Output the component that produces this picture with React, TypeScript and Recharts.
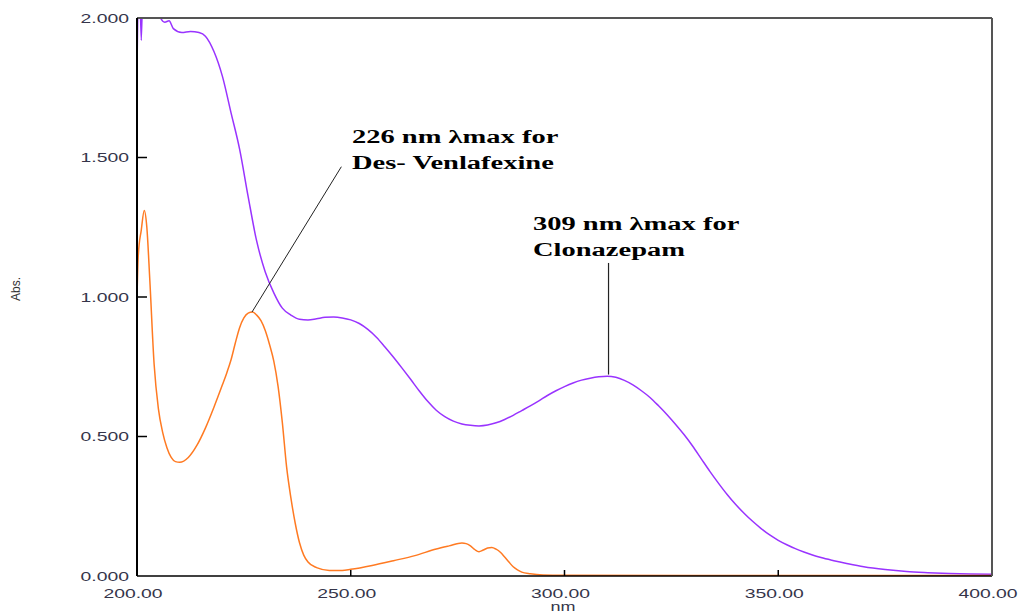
import React from 'react';
import { LineChart, Line, XAxis, YAxis, ReferenceLine } from 'recharts';

// wavelength (nm) and absorbance for each spectrum
const mixNm = [
  200, 200.5, 201, 201.5, 205, 205.5, 206.5, 207.5, 208.5, 210.5, 212.5, 214.5, 216, 218, 220, 222, 224, 226, 228, 230,
  232, 234, 236, 238, 240, 242, 244, 246, 248, 250, 252, 254, 256, 258, 260, 262, 264, 266, 268, 270,
  272, 274, 276, 278, 280, 282, 284, 286, 288, 290, 292, 294, 296, 298, 300, 302, 304, 306, 308, 310,
  312, 314, 316, 318, 320, 322, 324, 326, 328, 330, 332, 334, 336, 338, 340, 342, 344, 346, 348, 350,
  352, 354, 356, 358, 360, 363, 366, 370, 375, 380, 385, 390, 395, 400,
];
const mixAbs = [
  1.81, 2.2, 1.92, 2.2, 2.2, 2.0, 1.985, 1.99, 1.962, 1.948, 1.952, 1.948, 1.935, 1.88, 1.79, 1.66, 1.53, 1.36, 1.2, 1.09,
  1.015, 0.96, 0.935, 0.92, 0.918, 0.922, 0.927, 0.928, 0.925, 0.918, 0.905, 0.884, 0.856, 0.821, 0.784, 0.745, 0.705, 0.664, 0.626, 0.594,
  0.571, 0.555, 0.545, 0.54, 0.538, 0.541, 0.549, 0.561, 0.576, 0.593, 0.61, 0.628, 0.647, 0.664, 0.679, 0.692, 0.702, 0.709, 0.714, 0.716,
  0.712, 0.701, 0.685, 0.664, 0.64, 0.61, 0.578, 0.543, 0.506, 0.465, 0.42, 0.375, 0.333, 0.293, 0.257, 0.225, 0.196, 0.17, 0.147, 0.128,
  0.112, 0.098, 0.086, 0.075, 0.066, 0.055, 0.045, 0.033, 0.023, 0.016, 0.012, 0.009, 0.007, 0.006,
];

const dvfNm = [
  200, 200.3, 201, 201.7, 202.3, 203, 204, 205, 206, 207, 208, 209, 210, 212, 214, 216, 218, 220, 221, 222,
  223, 224, 225, 226, 227, 228, 229, 230, 231, 232, 233, 234, 235, 236, 237, 238, 239, 240, 242, 245,
  248, 250, 255, 260, 265, 270, 273, 276, 277, 278, 279, 280, 281, 282, 283, 284, 285, 286, 287, 288,
  289, 290, 292, 295, 300, 330, 360, 400,
];
const dvfAbs = [
  1.0, 1.15, 1.24, 1.31, 1.25, 1.06, 0.76, 0.6, 0.515, 0.46, 0.425, 0.41, 0.408, 0.425, 0.468, 0.53, 0.605, 0.686, 0.728, 0.775,
  0.835, 0.89, 0.925, 0.942, 0.946, 0.935, 0.915, 0.88, 0.83, 0.77, 0.68, 0.55, 0.39, 0.28, 0.19, 0.12, 0.075, 0.05, 0.03, 0.02,
  0.02, 0.024, 0.038, 0.055, 0.073, 0.097, 0.108, 0.118, 0.116, 0.108, 0.095, 0.087, 0.093, 0.1, 0.102, 0.096, 0.085, 0.068, 0.05, 0.033,
  0.022, 0.014, 0.008, 0.004, 0.003, 0.002, 0.002, 0.002,
];

const xTicks = [200, 250, 300, 350, 400];
const yTicks = [0, 0.5, 1, 1.5, 2];

const mixData = mixNm.map((nm, i) => ({ nm, abs: mixAbs[i] }));
const dvfData = dvfNm.map((nm, i) => ({ nm, abs: dvfAbs[i] }));

const tickFont = 'Liberation Sans, Arial, sans-serif';
const tickColor = '#35354a';
const noteFont = "'Liberation Serif', 'Times New Roman', serif";

const LeftTick = (props: any) => {
  const { x, y, payload } = props;
  const v = payload.value;
  return (
    <g>
      {v > 0 && v < 2 && <line x1={x} x2={x + 10} y1={y} y2={y} stroke="#000" strokeWidth={1.5} />}
      <text
        transform={`translate(${x - 8},${y + 4.5}) scale(1.55,1)`}
        textAnchor="end"
        fontFamily={tickFont}
        fontSize={12.5}
        fill={tickColor}
      >
        {v.toFixed(3)}
      </text>
    </g>
  );
};

const RightTick = (props: any) => {
  const { x, y, payload } = props;
  const v = payload.value;
  if (v <= 0 || v >= 2) return <g />;
  return <line x1={x} x2={x - 7} y1={y} y2={y} stroke="#333" strokeWidth={1.5} />;
};

const BottomTick = (props: any) => {
  const { x, y, payload } = props;
  const v = payload.value;
  return (
    <g>
      {v > 200 && v < 400 && <line x1={x} x2={x} y1={y} y2={y - 6} stroke="#000" strokeWidth={1.5} />}
      <text
        transform={`translate(${x - 4},${y + 22}) scale(1.55,1)`}
        textAnchor="middle"
        fontFamily={tickFont}
        fontSize={12.5}
        fill={tickColor}
      >
        {v.toFixed(2)}
      </text>
    </g>
  );
};

const Note = ({ x, y, text }: { x: number; y: number; text: string }) => (
  <text
    transform={`translate(${x},${y}) scale(1.5,1)`}
    fontFamily={noteFont}
    fontWeight="bold"
    fontSize={19}
    fill="#000"
  >
    {text}
  </text>
);

export default function App() {
  return (
    <div style={{ position: 'absolute', left: 0, top: 0, width: 1020, height: 613, background: '#fff' }}>
      <LineChart width={1020} height={613} margin={{ top: 18, right: 0, left: 0, bottom: 0 }}>
        <XAxis
          dataKey="nm"
          type="number"
          domain={[200, 400]}
          ticks={xTicks}
          height={37}
          tickSize={0}
          tickMargin={0}
          tickLine={false}
          axisLine={{ stroke: '#000', strokeWidth: 1.5 }}
          tick={<BottomTick />}
          allowDataOverflow
        />
        <YAxis
          yAxisId="left"
          type="number"
          domain={[0, 2]}
          ticks={yTicks}
          width={137}
          tickSize={0}
          tickMargin={0}
          tickLine={false}
          axisLine={{ stroke: '#000', strokeWidth: 2 }}
          tick={<LeftTick />}
          allowDataOverflow
        />
        <YAxis
          yAxisId="right"
          orientation="right"
          type="number"
          domain={[0, 2]}
          ticks={yTicks}
          width={28}
          tickSize={0}
          tickMargin={0}
          tickLine={false}
          axisLine={{ stroke: '#555', strokeWidth: 2 }}
          tick={<RightTick />}
        />
        <Line
          yAxisId="left"
          data={mixData}
          dataKey="abs"
          type="monotone"
          stroke="#9933ff"
          strokeWidth={1.5}
          dot={false}
          isAnimationActive={false}
        />
        <Line
          yAxisId="left"
          data={dvfData}
          dataKey="abs"
          type="monotone"
          stroke="#ff7a22"
          strokeWidth={1.5}
          dot={false}
          isAnimationActive={false}
        />
        <ReferenceLine yAxisId="left" y={2} stroke="#555" strokeWidth={2} />
        <ReferenceLine
          yAxisId="left"
          segment={[{ x: 226.9, y: 0.946 }, { x: 247.8, y: 1.467 }]}
          stroke="#222"
          strokeWidth={1}
        />
        <ReferenceLine
          yAxisId="left"
          segment={[{ x: 310.3, y: 0.722 }, { x: 310.3, y: 1.122 }]}
          stroke="#222"
          strokeWidth={1.2}
        />
      </LineChart>
      <svg
        width={1020}
        height={613}
        style={{ position: 'absolute', left: 0, top: 0, pointerEvents: 'none' }}
      >
        <Note x={352} y={143} text="226 nm λmax for" />
        <Note x={352} y={169} text="Des- Venlafexine" />
        <Note x={533} y={230} text="309 nm λmax for" />
        <Note x={533} y={256} text="Clonazepam" />
        <text
          transform="translate(20,289) rotate(-90)"
          textAnchor="middle"
          fontFamily={tickFont}
          fontSize={12}
          fill="#333"
        >
          Abs.
        </text>
        <text
          transform="translate(563,611) scale(1.5,1)"
          textAnchor="middle"
          fontFamily={tickFont}
          fontSize={12}
          fill={tickColor}
        >
          nm
        </text>
      </svg>
    </div>
  );
}
